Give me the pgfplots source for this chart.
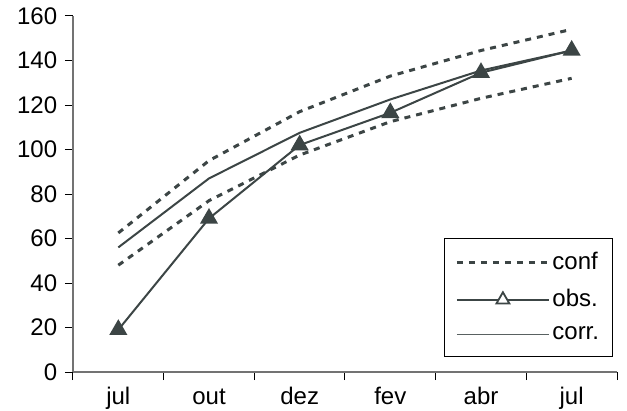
\documentclass[border=0pt]{standalone}
\usepackage{fontspec}
\setmainfont{Liberation Sans}
\usepackage{pgfplots}
\pgfplotsset{compat=1.18}
\definecolor{ln}{HTML}{3C4545}
\begin{document}
\fontsize{23}{27}\selectfont
\begin{tikzpicture}
\useasboundingbox (-73pt,-38pt) rectangle (554pt,372pt);
\begin{axis}[
  at={(0,0)}, anchor=south west,
  scale only axis, width=544pt, height=356pt,
  xmin=-0.5, xmax=5.5, ymin=0, ymax=160,
  axis x line*=bottom, axis y line*=left,
  axis line style={draw=gray!90!black, line width=1.2pt},
  every tick/.style={draw=black, line width=1pt},
  tick align=outside,
  major tick length=8pt,
  xtick={-0.5,0.5,...,5.5}, xticklabels={},
  extra x ticks={0,1,2,3,4,5},
  extra x tick labels={jul,out,dez,fev,abr,jul},
  extra x tick style={tick style={draw=none}, xticklabel style={text height=17pt, text depth=5pt}},
  ytick={0,20,...,160},
  /pgf/number format/assume math mode=true,
  tick label style={font=\fontsize{24}{28}\selectfont, text=black},
  clip=false,
  legend style={at={(0.682,0.376)}, anchor=north west, draw=black, line width=0.8pt,
    fill=white, font=\fontsize{24}{28}\selectfont, inner xsep=11pt, inner ysep=12pt,
    row sep=12pt},
  legend cell align=left,
]
\addplot[forget plot, ln, line width=3pt, dash pattern=on 6pt off 6pt] coordinates {(0,62.5)(1,95)(2,117)(3,133)(4,144.5)(5,154)};
\addplot[forget plot, ln, line width=3pt, dash pattern=on 6pt off 6pt] coordinates {(0,48)(1,77)(2,97.5)(3,112.5)(4,123)(5,132)};
\addplot[forget plot, ln, line width=2pt] coordinates {(0,56)(1,87)(2,107.5)(3,122.5)(4,135.5)(5,144.5)};
\addplot[forget plot, ln, line width=2pt, mark=triangle*, mark size=8.5pt, mark options={solid, fill=ln}] coordinates {(0,19)(1,69)(2,102)(3,116.5)(4,134.5)(5,144.5)};
\addlegendimage{ln, line width=3pt, dash pattern=on 6pt off 6pt, legend image code/.code={\draw (0pt,0pt) -- (92pt,0pt);}}
\addlegendentry{conf}
\addlegendimage{ln, line width=2pt, mark=triangle*, mark size=7.5pt, mark options={solid, fill=white, line width=1.8pt}, legend image code/.code={\draw[mark repeat=2, mark phase=2] plot coordinates {(0pt,0pt) (46pt,0pt) (92pt,0pt)};}}
\addlegendentry{obs.}
\addlegendimage{ln!85, line width=1.6pt, legend image code/.code={\draw (0pt,0pt) -- (92pt,0pt);}}
\addlegendentry{corr.}
\end{axis}
\end{tikzpicture}
\end{document}
